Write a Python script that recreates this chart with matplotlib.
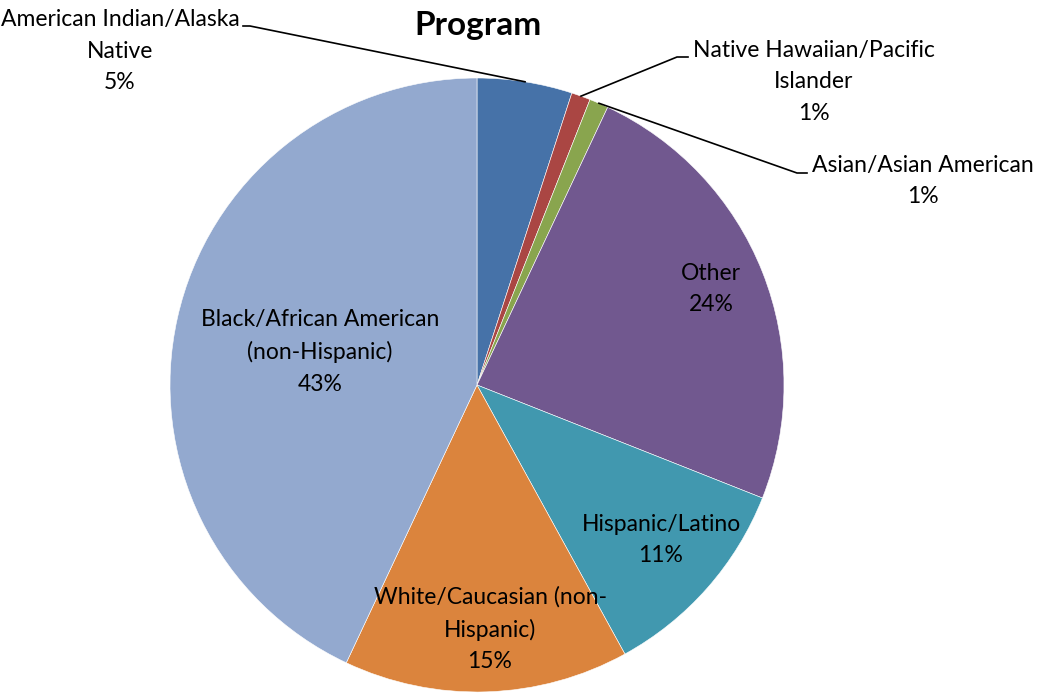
import numpy as np
import matplotlib.pyplot as plt

# Program participants by race / ethnicity (percent)
labels = ["American Indian/Alaska\nNative", "Native Hawaiian/Pacific\nIslander",
          "Asian/Asian American", "Other", "Hispanic/Latino",
          "White/Caucasian (non-\nHispanic)", "Black/African American\n(non-Hispanic)"]
shares = [5, 1, 1, 24, 11, 15, 43]
colors = ["#4672A8", "#AA4643", "#89A54E", "#71588F", "#4198AF", "#DB843D", "#93A9CF"]

W, H = 1057, 693
plt.rcParams['font.family'] = ['Lato', 'DejaVu Sans']

fig = plt.figure(figsize=(W / 100, H / 100), dpi=100)
ax = fig.add_axes([0, 0, 1, 1])

cx, cy, r = 477, H - 385, 307
wedges, _ = ax.pie(shares, colors=colors, startangle=90, counterclock=False,
                   center=(cx, cy), radius=r, frame=True,
                   wedgeprops=dict(edgecolor='white', linewidth=0.4))
ax.set_xlim(0, W)
ax.set_ylim(0, H)
ax.set_aspect('equal')
ax.axis('off')

fs = 16.5
ls = 1.62
fracs = np.array(shares) / sum(shares)
mids = 90 - 360 * (np.cumsum(fracs) - fracs / 2)

def label_text(i):
    return f"{labels[i]}\n{shares[i]}%"

# labels inside the big slices
inside = {3: (711, 289), 4: (661, 540), 5: (490, 629), 6: (320, 352)}
for i, (x, y) in inside.items():
    ax.text(x, H - y, label_text(i), ha='center', va='center', fontsize=fs,
            linespacing=ls)

# small slices get leader lines out to the side
outside = {0: ((120, 51), [(250, 26), (243, 26)]),
           1: ((814, 82), [(677, 57), (688, 57)]),
           2: ((923, 181), [(797, 173), (807, 173)])}
for i, ((x, y), elbow) in outside.items():
    a = np.deg2rad(mids[i])
    pts = [(cx + r * np.cos(a), cy + r * np.sin(a))] + [(ex, H - ey) for ex, ey in elbow]
    xs, ys = zip(*pts)
    ax.plot(xs, ys, color='black', linewidth=1.2)
    ax.text(x, H - y, label_text(i), ha='center', va='center', fontsize=fs,
            linespacing=ls)

ax.text(478, H - 25, "Program", ha='center', va='center', fontsize=24,
        fontweight='bold')

fig.savefig("out.png", dpi=100)
